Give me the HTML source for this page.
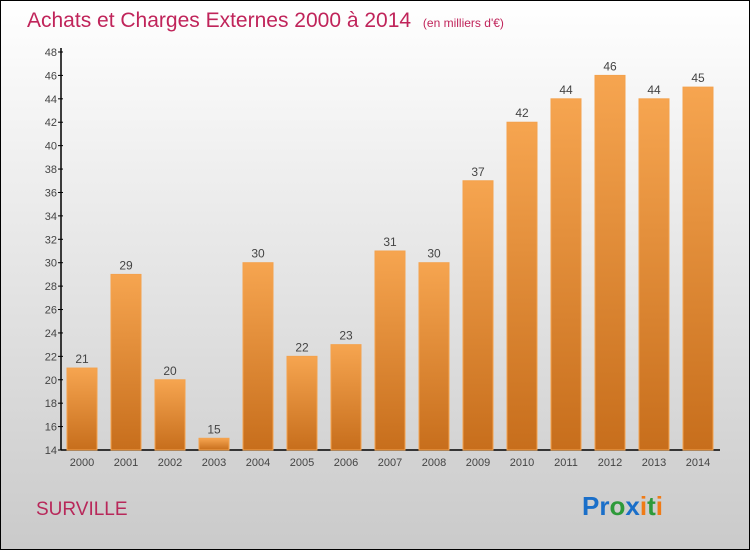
<!DOCTYPE html>
<html><head><meta charset="utf-8"><style>
body{margin:0;width:750px;height:550px;overflow:hidden;font-family:"Liberation Sans",sans-serif}
</style></head><body>
<svg id="c" width="750" height="550" xmlns="http://www.w3.org/2000/svg">
<defs>
<linearGradient id="bg" x1="0" y1="0" x2="0" y2="1"><stop offset="0" stop-color="#ffffff"/><stop offset="1" stop-color="#cacaca"/></linearGradient>
<linearGradient id="bar" x1="0" y1="0" x2="0" y2="1"><stop offset="0" stop-color="#f6a550"/><stop offset="1" stop-color="#c76e1c"/></linearGradient>
</defs>
<rect x="0.5" y="0.5" width="749" height="549" fill="url(#bg)" stroke="#000"/>
<text x="27" y="27" font-size="21" fill="#c0245a">Achats et Charges Externes 2000 à 2014 <tspan font-size="12" dx="6">(en milliers d'€)</tspan></text>
<g id="plot"></g>
<text x="36" y="515" font-size="19" fill="#b8285a">SURVILLE</text>
<text x="582" y="515" font-size="26" font-weight="bold"><tspan fill="#1a6fc9">Pr</tspan><tspan fill="#2e9a3a">o</tspan><tspan fill="#1a6fc9">x</tspan><tspan fill="#f07b16">i</tspan><tspan fill="#2e9a3a">t</tspan><tspan fill="#f07b16">i</tspan></text>
</svg>
<script>
const categories=["2000","2001","2002","2003","2004","2005","2006","2007","2008","2009","2010","2011","2012","2013","2014"];
const values=[21,29,20,15,30,22,23,31,30,37,42,44,46,44,45];
const yTicks=[14,16,18,20,22,24,26,28,30,32,34,36,38,40,42,44,46,48];
const NS="http://www.w3.org/2000/svg";
const g=document.getElementById('plot');
const y0=450,y1=52,vmin=14,vmax=48;
function yS(v){return y0-(v-vmin)*(y0-y1)/(vmax-vmin);}
function xS(i){return 82+i*44;}
function mk(t,a,txt){const e=document.createElementNS(NS,t);for(const k in a)e.setAttribute(k,a[k]);if(txt!==undefined)e.textContent=txt;g.appendChild(e);return e;}
let ax=mk('line',{x1:61,y1:y1-4,x2:61,y2:y0,stroke:'#000','stroke-width':1.5});


let bx=mk('line',{x1:61,y1:y0,x2:720,y2:y0,stroke:'#000','stroke-width':1.5});


yTicks.forEach(v=>{
 let tk=mk('line',{x1:58,x2:63,y1:yS(v),y2:yS(v),stroke:'#000'});
 
 
 let t=mk('text',{x:57,y:yS(v)+4,'font-size':11,fill:'#444','text-anchor':'end'},String(v));
 
 
});
categories.forEach((c,i)=>{
 const v=values[i],x=xS(i);
 let r=mk('rect',{x:x-15,y:yS(v),width:30,height:y0-yS(v),fill:'url(#bar)',stroke:'#f4a24d','stroke-width':1});
 
 
 let l=mk('text',{x:x,y:yS(v)-5,'font-size':12,fill:'#444','text-anchor':'middle'},String(v));
 
 
 let xl=mk('text',{x:x,y:466,'font-size':11,fill:'#444','text-anchor':'middle'},c);
 
 
});
</script>
</body></html>
